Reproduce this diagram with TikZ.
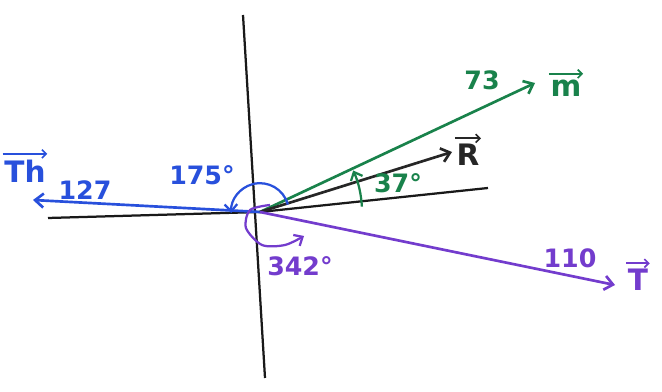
\documentclass[tikz,border=0pt]{standalone}
\usepackage{fontspec}
\setmainfont{DejaVu Sans}
\usetikzlibrary{arrows.meta}
\definecolor{thblue}{RGB}{40,80,220}
\definecolor{mgreen}{RGB}{25,130,75}
\definecolor{tpurple}{RGB}{115,60,205}

\begin{document}
\begin{tikzpicture}[
    x=0.025cm, y=0.025cm,
    axis/.style={line width=1.6pt, black!90},
    vec/.style={-{Straight Barb[length=6pt, width=10pt, line width=1.9pt]}, line width=1.9pt},
    anglearc/.style={-{Straight Barb[length=5pt, width=9pt, line width=1.6pt]}, line width=1.6pt},
    overarrow/.style={-{Straight Barb[length=3pt, width=6pt, line width=1.2pt]}, line width=1.2pt},
    lbl/.style={font=\fontsize{18}{22}\selectfont\bfseries, inner sep=1pt},
    veclbl/.style={font=\fontsize{21}{24}\selectfont\bfseries, inner sep=1pt}
]
    \useasboundingbox (0,0) rectangle (662,392);

    % axes
    \coordinate (O) at (260,180);
    \coordinate (ytop) at (243,377);
    \coordinate (ybot) at (265,14);
    \coordinate (xleft) at (48,174);
    \coordinate (xright) at (488,204);
    \draw[axis] (ytop) -- (ybot);
    \draw[axis] (xleft) -- (O) -- (xright);

    % vector tips
    \coordinate (thtip) at (33,192);
    \coordinate (mtip) at (535,309);
    \coordinate (rtip) at (452,240);
    \coordinate (ttip) at (615,107);

    \draw[vec, thblue] (O) -- (thtip);
    \draw[vec, mgreen] (O) -- (mtip);
    \draw[vec, black!85] (O) -- (rtip);
    \draw[vec, tpurple] (O) -- (ttip);

    % angle marks
    \draw[anglearc, thblue] ([shift={(15:0.72cm)}]O) arc[start angle=15, end angle=182, radius=0.72cm];
    \draw[anglearc, mgreen] ([shift={(3:2.55cm)}]O) arc[start angle=3, end angle=24, radius=2.55cm];
    \draw[anglearc, tpurple] plot[smooth] coordinates {(270,187) (250,182) (246,164) (262,147) (285,147) (304,156)};

    % vector names, each with a drawn arrow over it
    \node[veclbl, text=thblue] (thlbl) at (25,221) {Th};
    \node[veclbl, text=mgreen] (mlbl) at (566,304) {m};
    \node[veclbl, text=black!85] (rlbl) at (468,237) {R};
    \node[veclbl, text=tpurple] (tlbl) at (638,112) {T};
    \draw[overarrow, thblue] ([yshift=3pt]thlbl.north west) -- ([yshift=3pt]thlbl.north east);
    \draw[overarrow, mgreen] ([yshift=3pt]mlbl.north west) -- ([yshift=3pt]mlbl.north east);
    \draw[overarrow, black!85] ([yshift=3pt]rlbl.north west) -- ([yshift=3pt]rlbl.north east);
    \draw[overarrow, tpurple] ([yshift=3pt]tlbl.north west) -- ([yshift=3pt]tlbl.north east);

    % magnitudes and angles
    \node[lbl, text=thblue] (thmag) at (85,202) {127};
    \node[lbl, text=thblue] (thang) at (202,217) {175°};
    \node[lbl, text=mgreen] (mmag) at (482,312) {73};
    \node[lbl, text=mgreen] (mang) at (398,209) {37°};
    \node[lbl, text=tpurple] (tmag) at (570,134) {110};
    \node[lbl, text=tpurple] (tang) at (300,126) {342°};

\end{tikzpicture}
\end{document}
